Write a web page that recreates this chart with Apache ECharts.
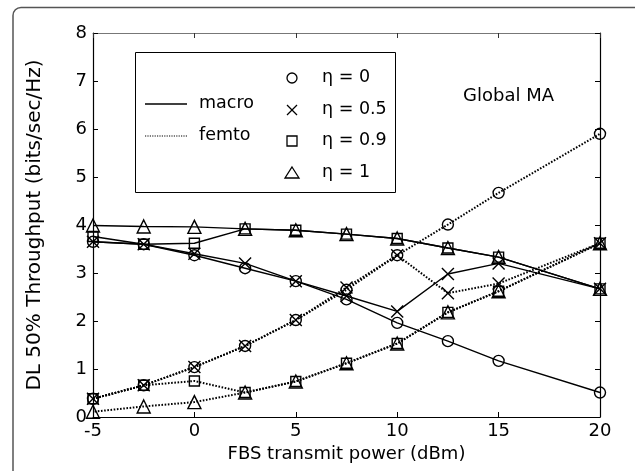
<!DOCTYPE html>
<html>
<head>
<meta charset="utf-8">
<script src="https://cdn.jsdelivr.net/npm/echarts@6/dist/echarts.min.js"></script>
<style>html,body{margin:0;padding:0;background:#fff}#c{width:635px;height:471px}</style>
</head>
<body>
<div id="c"></div>
<script>
const powers = [-5, -2.5, 0, 2.5, 5, 7.5, 10, 12.5, 15, 20];
const macroEta0  = [3.65, 3.6, 3.37, 3.1, 2.83, 2.45, 1.96, 1.58, 1.17, 0.51];
const macroEta05 = [3.65, 3.6, 3.4, 3.2, 2.83, 2.52, 2.2, 2.98, 3.2, 2.67];
const macroEta09 = [3.76, 3.6, 3.62, 3.92, 3.89, 3.81, 3.72, 3.52, 3.33, 2.67];
const macroEta1  = [3.99, 3.97, 3.96, 3.92, 3.89, 3.81, 3.72, 3.52, 3.33, 2.67];
const femtoEta0  = [0.38, 0.66, 1.04, 1.48, 2.02, 2.65, 3.37, 4.01, 4.67, 5.9];
const femtoEta05 = [0.38, 0.66, 1.04, 1.48, 2.02, 2.7, 3.37, 2.58, 2.78, 3.62];
const femtoEta09 = [0.38, 0.66, 0.75, 0.51, 0.74, 1.12, 1.53, 2.18, 2.62, 3.62];
const femtoEta1  = [0.11, 0.22, 0.31, 0.51, 0.74, 1.12, 1.53, 2.18, 2.62, 3.62];
const etaLabels = ['η = 0', 'η = 0.5', 'η = 0.9', 'η = 1'];
const xTitle = 'FBS transmit power (dBm)';
const yTitle = 'DL 50% Throughput (bits/sec/Hz)';
const noteText = 'Global MA';

const FONT = '"DejaVu Sans", sans-serif';
const X_PATH = 'path://M0,0L10,10M10,0L0,10';
const symbols = ['circle', X_PATH, 'rect', 'triangle'];
const symSizes = [11, 12, 10, 13];

function pairs(vals) { return powers.map((p, i) => [p, vals[i]]); }

function mk(name, vals, k, femto, offset) {
  return {
    name: name, type: 'line', data: pairs(vals),
    symbol: symbols[k], symbolSize: symSizes[k],
    showAllSymbol: true,
    lineStyle: femto
      ? { color: '#000', width: 2, type: [1.6, 1.6], dashOffset: offset || 0 }
      : { color: '#000', width: 1.4 },
    itemStyle: { color: 'rgba(0,0,0,0)', borderColor: '#000', borderWidth: 1.4 },
    emphasis: { disabled: true },
    animation: false
  };
}

const series = [
  mk('macro ' + etaLabels[0], macroEta0, 0, false),
  mk('macro ' + etaLabels[1], macroEta05, 1, false),
  mk('macro ' + etaLabels[2], macroEta09, 2, false),
  mk('macro ' + etaLabels[3], macroEta1, 3, false),
  mk('femto ' + etaLabels[0], femtoEta0, 0, true),
  mk('femto ' + etaLabels[1], femtoEta05, 1, true),
  mk('femto ' + etaLabels[2], femtoEta09, 2, true),
  mk('femto ' + etaLabels[3], femtoEta1, 3, true, 1.6)
];

// legend graphics
const lg = [];
const LF = '17.5px ' + FONT;
lg.push({ type: 'rect', shape: { x: 135.5, y: 52.5, width: 260, height: 140 }, style: { fill: '#fff', stroke: '#000', lineWidth: 1 }, z: 50 });
lg.push({ type: 'line', shape: { x1: 145, y1: 104, x2: 187, y2: 104 }, style: { stroke: '#000', lineWidth: 1.6 }, z: 51 });
lg.push({ type: 'text', x: 199, y: 103, style: { text: 'macro', font: LF, fill: '#000', textVerticalAlign: 'middle', verticalAlign: 'middle' }, z: 51 });
lg.push({ type: 'line', shape: { x1: 145, y1: 136, x2: 187, y2: 136 }, style: { stroke: '#000', lineWidth: 1.2, lineDash: [1.2, 1.2] }, z: 51 });
lg.push({ type: 'text', x: 199, y: 135, style: { text: 'femto', font: LF, fill: '#000', textVerticalAlign: 'middle', verticalAlign: 'middle' }, z: 51 });
const rowsY = [78, 110, 141, 173];
const mx = 292;
lg.push({ type: 'circle', shape: { cx: mx, cy: rowsY[0], r: 5 }, style: { fill: 'none', stroke: '#000', lineWidth: 1.3 }, z: 51 });
lg.push({ type: 'polyline', shape: { points: [[mx - 5, rowsY[1] - 5], [mx + 5, rowsY[1] + 5]] }, style: { stroke: '#000', lineWidth: 1.3 }, z: 51 });
lg.push({ type: 'polyline', shape: { points: [[mx + 5, rowsY[1] - 5], [mx - 5, rowsY[1] + 5]] }, style: { stroke: '#000', lineWidth: 1.3 }, z: 51 });
lg.push({ type: 'rect', shape: { x: mx - 5, y: rowsY[2] - 5, width: 10, height: 10 }, style: { fill: 'none', stroke: '#000', lineWidth: 1.3 }, z: 51 });
lg.push({ type: 'polygon', shape: { points: [[mx, rowsY[3] - 6], [mx + 7, rowsY[3] + 5], [mx - 7, rowsY[3] + 5]] }, style: { fill: 'none', stroke: '#000', lineWidth: 1.3 }, z: 51 });
etaLabels.forEach((t, i) => {
  lg.push({ type: 'text', x: 322, y: rowsY[i] - 1, style: { text: t, font: LF, fill: '#000', textVerticalAlign: 'middle', verticalAlign: 'middle' }, z: 51 });
});
lg.push({ type: 'text', x: 463, y: 96, style: { text: noteText, font: '18px ' + FONT, fill: '#000', textVerticalAlign: 'middle', verticalAlign: 'middle' }, z: 51 });
// outer frame
lg.push({ type: 'rect', shape: { x: 13, y: 7.5, width: 700, height: 600, r: 8 }, style: { fill: 'none', stroke: '#555', lineWidth: 1.5 }, z: 1 });

const axisLbl = { color: '#000', fontSize: 18, fontFamily: FONT };

const chart = echarts.init(document.getElementById('c'), null, { renderer: 'canvas' });
chart.setOption({
  animation: false,
  backgroundColor: '#fff',
  grid: { left: 93, right: 35, top: 33, bottom: 54 },
  xAxis: [{
    type: 'value', min: -5, max: 20, interval: 5, position: 'bottom',
    name: xTitle, nameLocation: 'middle', nameGap: 28,
    nameTextStyle: { color: '#000', fontSize: 18, fontFamily: FONT },
    axisLine: { onZero: false, lineStyle: { color: '#000', width: 1.2 } },
    axisTick: { inside: true, length: 5, lineStyle: { color: '#000' } },
    axisLabel: Object.assign({ margin: 5 }, axisLbl),
    splitLine: { show: false }
  }, {
    type: 'value', min: -5, max: 20, interval: 5, position: 'top',
    axisLine: { onZero: false, lineStyle: { color: '#777', width: 1 } },
    axisTick: { inside: true, length: 5, lineStyle: { color: '#333' } },
    axisLabel: { show: false },
    splitLine: { show: false }
  }],
  yAxis: [{
    type: 'value', min: 0, max: 8, interval: 1, position: 'left',
    name: yTitle, nameLocation: 'middle', nameGap: 48,
    nameTextStyle: { color: '#000', fontSize: 20, fontFamily: FONT },
    axisLine: { onZero: false, lineStyle: { color: '#000', width: 1.2 } },
    axisTick: { inside: true, length: 5, lineStyle: { color: '#000' } },
    axisLabel: Object.assign({ margin: 6 }, axisLbl),
    splitLine: { show: false }
  }, {
    type: 'value', min: 0, max: 8, interval: 1, position: 'right',
    axisLine: { onZero: false, lineStyle: { color: '#000', width: 1.2 } },
    axisTick: { inside: true, length: 5, lineStyle: { color: '#000' } },
    axisLabel: { show: false },
    splitLine: { show: false }
  }],
  series: series,
  graphic: lg
});
</script>
</body>
</html>
